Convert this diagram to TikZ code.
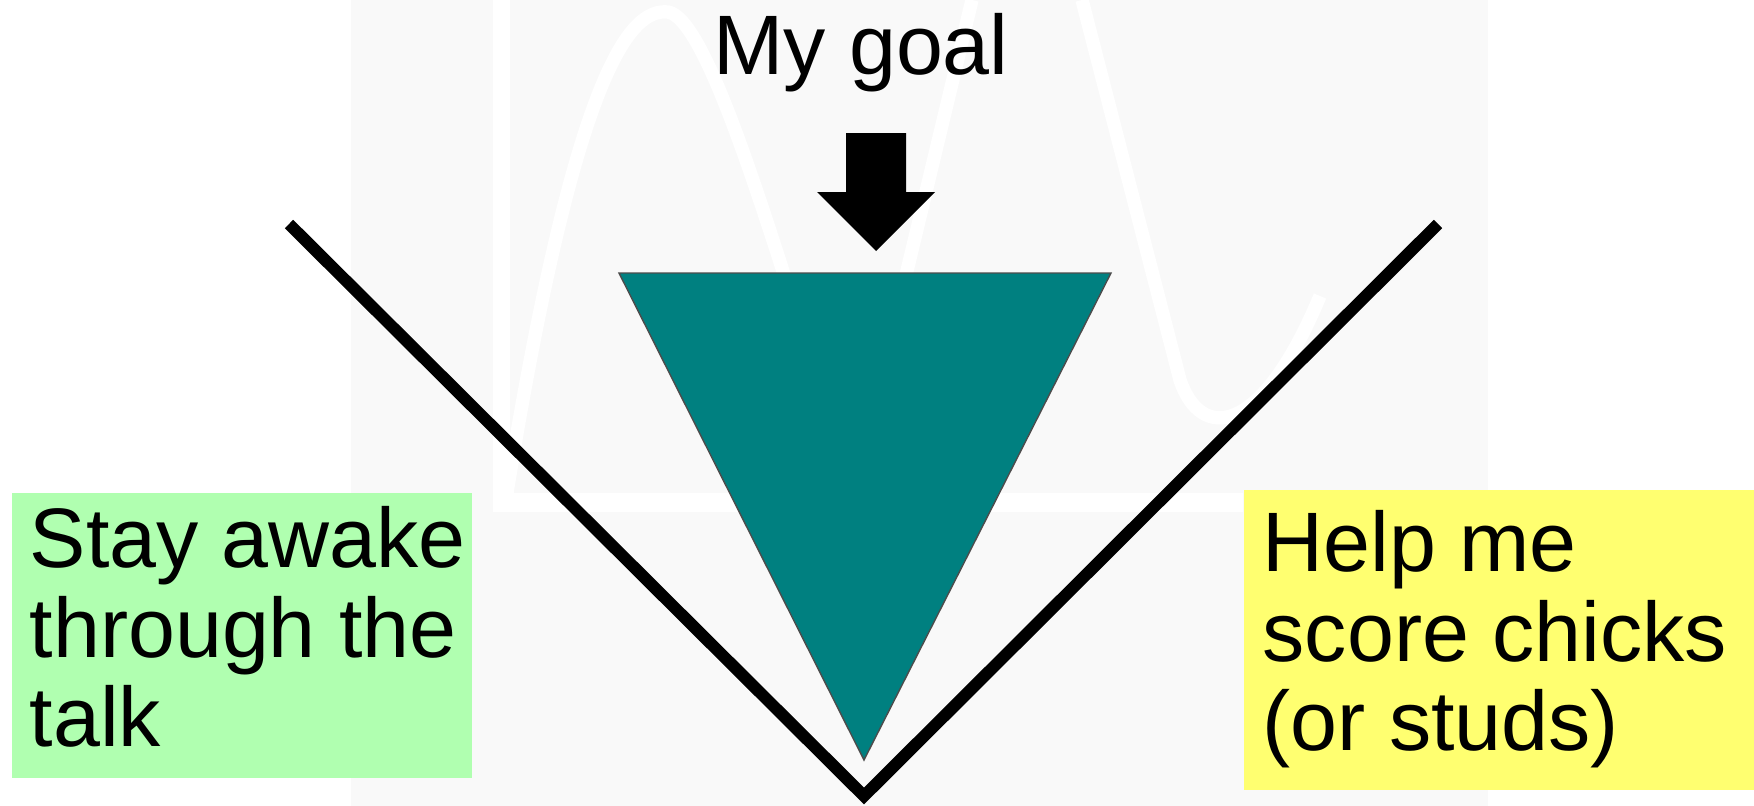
\documentclass[tikz,border=0pt]{standalone}
\usepackage{fontspec}
\setmainfont{Liberation Sans}
\usetikzlibrary{positioning}
\definecolor{goalteal}{HTML}{008080}
\definecolor{awakegreen}{HTML}{B0FFB0}
\definecolor{scoreyellow}{HTML}{FFFF70}
\definecolor{logogray}{HTML}{F9F9F9}

\begin{document}
\begin{tikzpicture}[x=0.01cm,y=-0.01cm,
    font=\fontsize{24}{25.5}\selectfont,
    notebox/.style={anchor=north west,inner sep=0pt},
    notetext/.style={anchor=north west,inner sep=0pt,align=left},
    logoline/.style={white,line width=3.8pt}]
  \useasboundingbox (0,0) rectangle (1754,806);
  % faint logo in the back
  \fill[logogray] (351,0) rectangle (1488,806);
  \fill[white] (493,0) rectangle (510,512);
  \fill[white] (493,493) rectangle (1243,512);
  \draw[logoline] (505,505) .. controls (575,70) and (630,8) .. (668,12) .. controls (705,18) and (760,200) .. (805,340);
  \draw[logoline] (972,0) -- (900,300);
  \draw[logoline] (1082,0) -- (1180,380) .. controls (1200,440) and (1260,440) .. (1320,296);

  \node[anchor=base] (goal) at (861,74) {My goal};
  \coordinate (tip) at (876,251);
  \fill (846,133) -- (906,133) -- (906,192) -- (935,192) -- (tip) -- (817,192) -- (846,192) -- cycle;
  \filldraw[fill=goalteal,draw=black!70,line width=0.4pt] (619,273) -- (1111,273) -- (864,760) -- cycle;
  \draw[line width=3.4pt] (289,224) -- (864,796) -- (1438,224);

  \node[notebox,fill=awakegreen,minimum width=4.6cm,minimum height=2.85cm] (awake) at (11,492) {};
  \node[notetext,xshift=0.18cm,yshift=-0.135cm] (awaketext) at (awake.north west) {Stay awake\\through the\\talk};
  \node[notebox,fill=scoreyellow,minimum width=5.11cm,minimum height=3cm] (score) at (1243,489) {};
  \node[notetext,xshift=0.19cm,yshift=-0.205cm] (scoretext) at (score.north west) {Help me\\score chicks\\(or studs)};
\end{tikzpicture}
\end{document}
